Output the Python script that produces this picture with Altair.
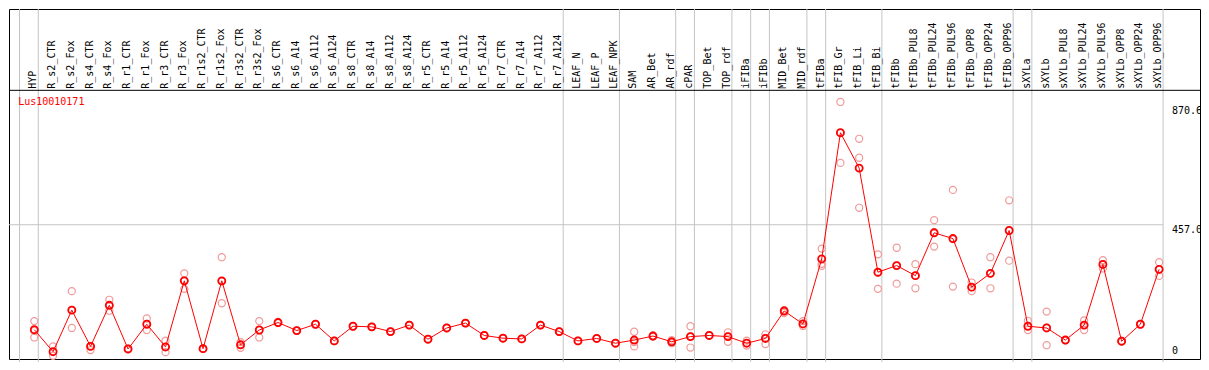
import altair as alt
import pandas as pd

labels = ["HYP", "R_s2_CTR", "R_s2_Fox", "R_s4_CTR", "R_s4_Fox", "R_r1_CTR", "R_r1_Fox",
          "R_r3_CTR", "R_r3_Fox", "R_r1s2_CTR", "R_r1s2_Fox", "R_r3s2_CTR", "R_r3s2_Fox",
          "R_s6_CTR", "R_s6_A14", "R_s6_A112", "R_s6_A124", "R_s8_CTR", "R_s8_A14",
          "R_s8_A112", "R_s8_A124", "R_r5_CTR", "R_r5_A14", "R_r5_A112", "R_r5_A124",
          "R_r7_CTR", "R_r7_A14", "R_r7_A112", "R_r7_A124", "LEAF_N", "LEAF_P", "LEAF_NPK",
          "SAM", "AR_Bet", "AR_rdf", "cPAR", "TOP_Bet", "TOP_rdf", "iFIBa", "iFIBb",
          "MID_Bet", "MID_rdf", "tFIBa", "tFIB_Gr", "tFIB_Li", "tFIB_Bi", "tFIBb",
          "tFIBb_PUL8", "tFIBb_PUL24", "tFIBb_PUL96", "tFIBb_OPP8", "tFIBb_OPP24",
          "tFIBb_OPP96", "sXYLa", "sXYLb", "sXYLb_PUL8", "sXYLb_PUL24", "sXYLb_PUL96",
          "sXYLb_OPP8", "sXYLb_OPP24", "sXYLb_OPP96"]

means = [92, 15.5, 160, 34, 177, 25, 111, 32, 262, 26,
         262, 39.5, 91, 117, 89, 111, 53, 104, 102, 85.5,
         108, 59, 98, 115, 72, 62.5, 60, 108, 85.5, 53,
         61.5, 45, 56, 70, 50, 68, 72, 68, 45, 61.5,
         157, 112, 338, 777, 654, 292, 315, 280, 429, 409,
         240, 288, 437, 104, 98, 56, 108, 319, 52, 111, 302]

rep1 = [122, 34, 226, 36, 196, 26, 131, 54, 288, 27,
        344, 49, 122, 119, 90, 112, 54, 105, 103, 86,
        109, 60, 99, 116, 73, 63, 61, 109, 86, 54,
        62, 46, 85, 72, 56, 104, 73, 83, 54, 76,
        150, 122, 374, 884, 756, 354, 377, 320, 473, 578,
        256, 344, 542, 123, 155, 57, 124, 334, 53, 112, 327]
rep2 = [88, 1, 98, 21, 158, 24, 91, 14, 234, 25,
        184, 29, 65, 116, 88, 110, 52, 103, 101, 85,
        107, 58, 97, 114, 71, 62, 59, 107, 85, 52,
        61, 44, 49, 68, 45, 30, 71, 50, 37, 42,
        157, 105, 321, 672, 690, 234, 252, 236, 381, 242,
        226, 236, 332, 91, 38, 55, 91, 319, 51, 110, 279]
rep3 = [65, 16, 161, 34, 177, 25, 112, 32, 263, 26,
        260, 40, 91, 117, 89, 111, 53, 104, 102, 85.5,
        108, 59, 98, 115, 72, 62.5, 60, 108, 85.5, 53,
        61.5, 45, 34, 70, 50, 69, 72, 69, 46, 63,
        161, 112, 314, 776, 516, 290, 316, 280, 431, 407,
        240, 288, 437, 105, 99, 56, 108, 305, 52, 111, 302]

group_breaks = [0, 1, 29, 32, 35, 36, 38, 39, 40, 42, 43, 46, 53, 54, 61]
scale_labels = ["870.6", "457.0"]
scale_values = [870.6, 457.0]
gene = "Lus10010171"

# ---- layout constants ----
W, H = 1193, 354
REF_W, REF_H = 1209, 370
sx, sy = W / REF_W, H / REF_H
COL0, COLW = 25.7, 19.03          # reference px of first point, column pitch
PXV, Y0 = 0.304, 367.0            # px per unit, reference px of value 0
xdom = [(0 - COL0) / COLW, (REF_W - COL0) / COLW]
ydom = [(Y0 - REF_H) / PXV, (Y0 - 0) / PXV]
xs = alt.Scale(domain=xdom, zero=False, nice=False)
ys = alt.Scale(domain=ydom, zero=False, nice=False)
FONT = "DejaVu Sans Mono"

df = pd.DataFrame({"i": list(range(len(labels))), "label": labels, "mean": means})
reps = pd.DataFrame({
    "i": list(range(len(labels))) * 3,
    "v": rep1 + rep2 + rep3,
})
breaks = pd.DataFrame({"b": [k - 15.0 / COLW for k in group_breaks]})
right_end = group_breaks[-1] - 15.0 / COLW
sl = pd.DataFrame({"t": scale_labels, "v": scale_values})
zl = pd.DataFrame({"t": ["0"], "v": [0]})

X = lambda f: alt.X(f, type="quantitative", scale=xs, axis=None)
Y = lambda f: alt.Y(f, type="quantitative", scale=ys, axis=None)

vsep = alt.Chart(breaks).mark_rule(color="#c4c4c4", strokeWidth=1).encode(
    x=X("b"), y=alt.value(0), y2=alt.value(H))

hgrid = alt.Chart(pd.DataFrame({"v": [457.0], "x2": [right_end], "x1": [xdom[0]]})).mark_rule(
    color="#c4c4c4", strokeWidth=1).encode(x=X("x1"), x2="x2", y=Y("v"))

header = alt.Chart(pd.DataFrame({"a": [0]})).mark_rule(color="black", strokeWidth=1).encode(
    x=alt.value(0), x2=alt.value(W), y=alt.value(85 * sy))

col_text = alt.Chart(df).mark_text(
    angle=270, align="left", baseline="alphabetic", dy=2, font=FONT, fontSize=10, color="black"
).encode(x=X("i"), y=alt.value(83.3 * sy), text="label")

gene_text = alt.Chart(pd.DataFrame({"t": [gene]})).mark_text(
    align="left", baseline="middle", font=FONT, fontSize=10, color="#ff0000"
).encode(x=alt.value(9.3 * sx), y=alt.value(97.7 * sy), text="t")

scale_text = alt.Chart(sl).mark_text(
    align="left", baseline="top", font=FONT, fontSize=10, color="black"
).encode(x=alt.value(1178.5 * sx), y=Y("v"), text="t")

zero_text = alt.Chart(zl).mark_text(
    align="left", baseline="bottom", font=FONT, fontSize=10, color="black"
).encode(x=alt.value(1178.5 * sx), y=Y("v"), text="t")

rep_pts = alt.Chart(reps).mark_point(
    shape="circle", filled=False, size=50, color="#f09a9a", strokeWidth=1.2, opacity=1
).encode(x=X("i"), y=Y("v"))

line = alt.Chart(df).mark_line(color="#ff0000", strokeWidth=1).encode(x=X("i"), y=Y("mean"))

mean_pts = alt.Chart(df).mark_point(
    shape="circle", filled=False, size=50, color="#ff0000", strokeWidth=1.8, opacity=1
).encode(x=X("i"), y=Y("mean"))

chart = alt.layer(
    vsep, hgrid, header, col_text, gene_text, scale_text, zero_text, rep_pts, line, mean_pts
).properties(
    width=W, height=H, padding=0, background="white",
    autosize=alt.AutoSizeParams(type="fit", contains="padding"),
).configure_view(stroke="black", strokeWidth=1)

chart.save("out.html", embed_options={"renderer": "svg", "actions": False})
